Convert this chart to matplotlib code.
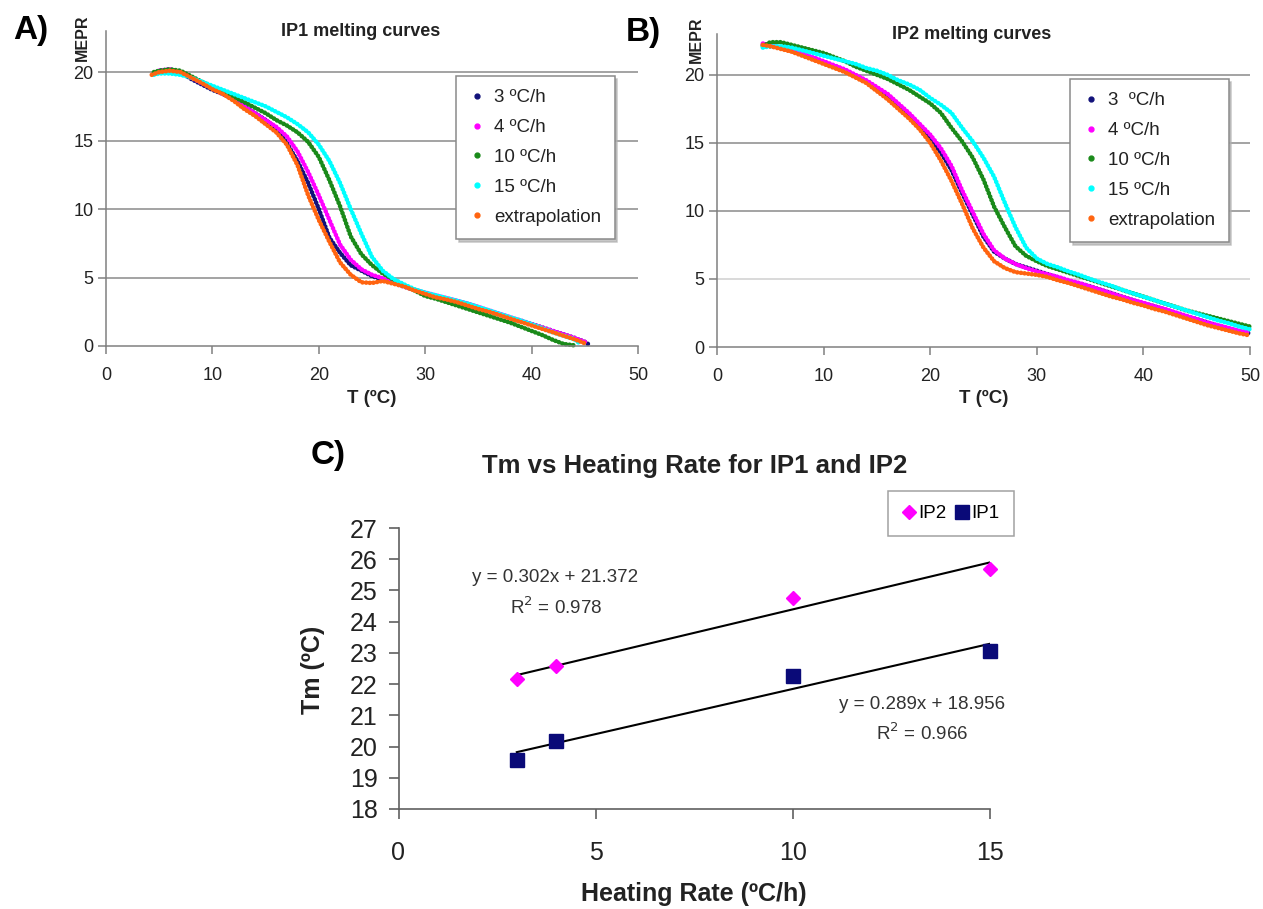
import numpy as np
import matplotlib.pyplot as plt
from matplotlib.lines import Line2D

plt.rcParams['font.family'] = ['Liberation Sans', 'DejaVu Sans']

# ---- panel A: IP1 melting curves (T in ºC, MEPR) ----
a3_t = [4.5] + list(range(5, 46)) + [45.5]
a3_v = [19.9, 20.1, 20.2, 20.0, 19.5, 19.1, 18.7, 18.4, 18.0, 17.5, 17.0, 16.5, 15.9,
        14.8, 13.5, 11.9, 10.0, 7.9, 6.8, 5.9, 5.5, 5.1, 4.85, 4.6, 4.35, 4.1, 3.85,
        3.65, 3.45, 3.25, 3.0, 2.8, 2.55, 2.3, 2.05, 1.85, 1.6, 1.35, 1.1, 0.85, 0.6,
        0.3, 0.05]
a4_t = list(range(5, 46))
a4_v = [20.1, 20.2, 20.0, 19.6, 19.2, 18.8, 18.4, 18.0, 17.5, 17.0, 16.5, 16.0, 15.3,
        14.2, 12.7, 11.0, 9.2, 7.4, 6.3, 5.6, 5.2, 4.95, 4.6, 4.35, 4.1, 3.9, 3.7, 3.5,
        3.3, 3.1, 2.85, 2.6, 2.35, 2.1, 1.85, 1.6, 1.35, 1.1, 0.85, 0.6, 0.3]
a10_t = [4.5] + list(range(5, 45))
a10_v = [20.0, 20.1, 20.2, 20.1, 19.7, 19.3, 18.9, 18.6, 18.2, 17.8, 17.4, 17.0, 16.5,
         16.1, 15.6, 14.9, 13.8, 12.1, 10.2, 8.0, 6.7, 5.9, 5.3, 4.85, 4.45, 4.05, 3.65,
         3.45, 3.2, 2.95, 2.7, 2.45, 2.2, 1.95, 1.7, 1.4, 1.1, 0.8, 0.45, 0.15, 0.05]
a15_t = [4.5] + list(range(5, 45)) + [44.5]
a15_v = [19.8, 19.9, 19.9, 19.8, 19.6, 19.3, 19.0, 18.7, 18.4, 18.1, 17.8, 17.5, 17.1,
         16.7, 16.2, 15.6, 14.7, 13.5, 11.9, 10.0, 8.2, 6.5, 5.5, 4.9, 4.5, 4.15, 3.9,
         3.7, 3.5, 3.3, 3.1, 2.85, 2.6, 2.35, 2.1, 1.85, 1.6, 1.3, 1.0, 0.75, 0.5, 0.2]
aex_t = [4.3] + list(range(5, 46))
aex_v = [19.8, 20.0, 20.1, 20.0, 19.6, 19.2, 18.75, 18.4, 17.9, 17.3, 16.8, 16.2, 15.6,
         14.7, 13.2, 11.0, 9.2, 7.6, 6.1, 5.2, 4.65, 4.6, 4.75, 4.55, 4.35, 4.05, 3.8,
         3.55, 3.4, 3.2, 2.95, 2.7, 2.5, 2.25, 2.0, 1.75, 1.5, 1.25, 1.0, 0.75, 0.5, 0.2]

# ---- panel B: IP2 melting curves ----
b_t = [4.3] + list(range(5, 51))
b3_v = [22.2, 22.1, 22.0, 21.8, 21.5, 21.2, 20.9, 20.6, 20.3, 19.9, 19.5, 19.0, 18.4,
        17.7, 17.0, 16.2, 15.3, 14.3, 13.0, 11.3, 9.7, 8.1, 7.0, 6.5, 6.1, 5.85, 5.6,
        5.35, 5.1, 4.85, 4.65, 4.45, 4.2, 3.95, 3.7, 3.45, 3.2, 3.0, 2.75, 2.5, 2.25,
        2.05, 1.8, 1.55, 1.35, 1.15, 1.0]
b4_v = [22.3, 22.2, 22.0, 21.8, 21.6, 21.3, 21.0, 20.7, 20.4, 20.0, 19.6, 19.1, 18.6,
        17.9, 17.2, 16.4, 15.6, 14.6, 13.3, 11.5, 9.9, 8.3, 7.1, 6.5, 6.1, 5.8, 5.55,
        5.35, 5.15, 4.9, 4.7, 4.45, 4.2, 3.95, 3.7, 3.45, 3.25, 3.0, 2.8, 2.55, 2.3,
        2.05, 1.8, 1.6, 1.4, 1.2, 1.05]
b10_v = [22.1, 22.4, 22.4, 22.2, 22.0, 21.8, 21.6, 21.3, 21.0, 20.6, 20.3, 20.0, 19.7,
         19.3, 18.9, 18.4, 17.9, 17.2, 16.1, 15.1, 13.9, 12.3, 10.3, 8.8, 7.4, 6.7, 6.3,
         5.95, 5.7, 5.45, 5.2, 4.95, 4.7, 4.45, 4.2, 3.95, 3.7, 3.45, 3.2, 2.95, 2.7,
         2.5, 2.3, 2.1, 1.9, 1.7, 1.5]
b15_v = [22.0, 22.1, 22.1, 22.0, 21.8, 21.6, 21.4, 21.2, 21.0, 20.8, 20.5, 20.3, 20.0,
         19.6, 19.3, 18.9, 18.3, 17.8, 17.2, 16.1, 15.1, 13.9, 12.5, 10.6, 8.8, 7.3, 6.5,
         6.1, 5.85, 5.55, 5.3, 5.0, 4.75, 4.5, 4.2, 3.95, 3.7, 3.45, 3.2, 2.95, 2.7,
         2.45, 2.2, 1.95, 1.75, 1.5, 1.3]
bex_v = [22.2, 22.1, 21.9, 21.7, 21.4, 21.1, 20.8, 20.5, 20.2, 19.8, 19.4, 18.8, 18.2,
         17.5, 16.8, 16.0, 15.0, 13.7, 12.2, 10.5, 8.7, 7.3, 6.3, 5.8, 5.5, 5.4, 5.3,
         5.15, 4.9, 4.7, 4.45, 4.2, 3.95, 3.7, 3.5, 3.25, 3.05, 2.8, 2.6, 2.35, 2.1,
         1.85, 1.6, 1.4, 1.2, 1.0, 0.85]

# ---- panel C: Tm vs heating rate ----
rate = [3, 4, 10, 15]
tm_ip2 = [22.15, 22.57, 24.77, 25.68]
tm_ip1 = [19.58, 20.19, 22.25, 23.05]

colors = ['#12127a', '#ff00ff', '#1a8a1a', '#00ffff', '#ff6410']
labels_a = ['3 ºC/h', '4 ºC/h', '10 ºC/h', '15 ºC/h', 'extrapolation']
labels_b = ['3  ºC/h', '4 ºC/h', '10 ºC/h', '15 ºC/h', 'extrapolation']

fig = plt.figure(figsize=(12.63, 9.09), dpi=100)
W, H = 1263, 909


def box(l, r, b, t):
    return [l / W, 1 - b / H, (r - l) / W, (b - t) / H]


ax_a = fig.add_axes(box(106, 638, 346, 31))
ax_b = fig.add_axes(box(717, 1250, 347, 34))
ax_c = fig.add_axes(box(398.5, 990, 809, 528))


def melt_panel(ax, curves, labels, title, leg_xy, light5=False):
    for (t, v), c in zip(curves, colors):
        ax.plot(t, v, color=c, lw=3.3, ls=(0, (0.05, 0.75)), dash_capstyle='round',
                clip_on=False)
    ax.set_xlim(0, 50)
    ax.set_ylim(0, 23)
    ax.set_xticks([0, 10, 20, 30, 40, 50])
    ax.set_yticks([0, 5, 10, 15, 20])
    for v in [5, 10, 15, 20]:
        gc = '#cfcfcf' if (light5 and v == 5) else '#8a8a8a'
        ax.axhline(v, color=gc, lw=1.1, zorder=0)
    for s in ['top', 'right']:
        ax.spines[s].set_visible(False)
    for s in ['left', 'bottom']:
        ax.spines[s].set_color('#808080')
        ax.spines[s].set_linewidth(1.1)
    ax.tick_params(axis='x', length=6, width=1.1, color='#808080', pad=9,
                   labelsize=13, labelcolor='#222222')
    ax.tick_params(axis='y', length=6, width=1.1, color='#808080', pad=3,
                   labelsize=13, labelcolor='#222222')
    ax.set_xlabel('T (ºC)', fontsize=13.5, fontweight='bold', color='#222222')
    ax.xaxis.set_label_coords(0.5, -0.138)
    ax.text(0.478, 0.997, title, transform=ax.transAxes, ha='center', va='center',
            fontsize=13, fontweight='bold', color='#222222')
    handles = [Line2D([], [], ls='none', marker='o', ms=3.5, color=c, mec=c)
               for c in colors]
    leg = ax.legend(handles, labels, loc='upper left',
                    bbox_to_anchor=(leg_xy[0] / W, 1 - leg_xy[1] / H),
                    bbox_transform=fig.transFigure, fontsize=13.5, frameon=True,
                    fancybox=False, edgecolor='#8a8a8a', labelspacing=0.68,
                    handlelength=0.8, handletextpad=0.55, borderpad=0.7,
                    borderaxespad=0, shadow={'color': '#b0b0b0', 'alpha': 0.7})
    leg.get_frame().set_linewidth(1.1)
    for txt in leg.get_texts():
        txt.set_color('#222222')


melt_panel(ax_a, [(a3_t, a3_v), (a4_t, a4_v), (a10_t, a10_v), (a15_t, a15_v), (aex_t, aex_v)],
           labels_a, 'IP1 melting curves', (456, 76))
melt_panel(ax_b, [(b_t, b3_v), (b_t, b4_v), (b_t, b10_v), (b_t, b15_v), (b_t, bex_v)],
           labels_b, 'IP2 melting curves', (1070, 79), light5=True)

fig.text(82 / W, 1 - 38 / H, 'MEPR', rotation=90, ha='center', va='center',
         fontsize=11.5, fontweight='bold', color='#222222')
fig.text(696 / W, 1 - 40 / H, 'MEPR', rotation=90, ha='center', va='center',
         fontsize=11.5, fontweight='bold', color='#222222')

# panel labels
fig.text(31 / W, 1 - 31 / H, 'A)', ha='center', va='center', fontsize=24, fontweight='bold')
fig.text(643 / W, 1 - 32 / H, 'B)', ha='center', va='center', fontsize=24, fontweight='bold')
fig.text(328 / W, 1 - 456 / H, 'C)', ha='center', va='center', fontsize=24, fontweight='bold')

# ---- panel C ----
for y, m, c, ms, lab in [(tm_ip2, 'D', '#ff00ff', 7.5, 'IP2'), (tm_ip1, 's', '#0a0a78', 10, 'IP1')]:
    k, b = np.polyfit(rate, y, 1)
    xs = np.array([rate[0], rate[-1]])
    ax_c.plot(xs, k * xs + b, color='black', lw=1.5, zorder=1)
    ax_c.plot(rate, y, ls='none', marker=m, ms=ms, color=c, mec=c, label=lab, zorder=2,
              clip_on=False)

ax_c.set_xlim(0, 15)
ax_c.set_ylim(18, 27)
ax_c.set_xticks([0, 5, 10, 15])
ax_c.set_yticks(range(18, 28))
for s in ['top', 'right']:
    ax_c.spines[s].set_visible(False)
for s in ['left', 'bottom']:
    ax_c.spines[s].set_color('#606060')
    ax_c.spines[s].set_linewidth(1.2)
ax_c.tick_params(axis='x', length=7, width=1.2, color='#606060', pad=16,
                 labelsize=18, labelcolor='#222222')
ax_c.tick_params(axis='y', length=7, width=1.2, color='#606060', pad=8,
                 labelsize=18, labelcolor='#222222')
ax_c.set_xlabel('Heating Rate (ºC/h)', fontsize=18, fontweight='bold', color='#222222')
ax_c.xaxis.set_label_coords(0.5, -0.26)
ax_c.set_ylabel('Tm (ºC)', fontsize=18, fontweight='bold', color='#222222')
ax_c.yaxis.set_label_coords(-0.125, 0.495)
ax_c.text(0.5, 1.22, 'Tm vs Heating Rate for IP1 and IP2', transform=ax_c.transAxes,
          ha='center', va='center', fontsize=18.5, fontweight='bold', color='#222222')
ax_c.text(3.97, 25.40, 'y = 0.302x + 21.372', ha='center', va='center', fontsize=13.5,
          color='#333333')
ax_c.text(3.99, 24.47, 'R$^2$ = 0.978', ha='center', va='center', fontsize=13.5,
          color='#333333')
ax_c.text(13.28, 21.36, 'y = 0.289x + 18.956', ha='center', va='center', fontsize=13.5,
          color='#333333')
ax_c.text(13.28, 20.43, 'R$^2$ = 0.966', ha='center', va='center', fontsize=13.5,
          color='#333333')
leg_c = ax_c.legend(loc='upper left', bbox_to_anchor=(888 / W, 1 - 491 / H),
                    bbox_transform=fig.transFigure, ncol=2, fontsize=13.5, frameon=True,
                    fancybox=False, edgecolor='#8a8a8a', handlelength=0.7,
                    handletextpad=0.15, columnspacing=0.5, borderpad=0.75,
                    borderaxespad=0)
leg_c.get_frame().set_linewidth(1.1)

fig.savefig('out.png', dpi=100)
